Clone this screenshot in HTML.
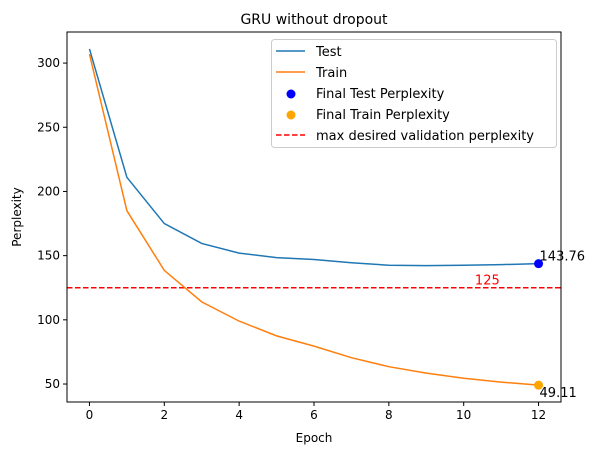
<!DOCTYPE html>
<html><head><meta charset="utf-8"><style>
body{margin:0;background:#fff}
svg text{font-family:"DejaVu Sans","Liberation Sans",sans-serif}
</style></head><body>
<svg id="chart" width="597" height="455" xmlns="http://www.w3.org/2000/svg">
<rect width="597" height="455" fill="#fff"/>
<g id="plot"></g>
</svg>
<script>
const epochs=[0,1,2,3,4,5,6,7,8,9,10,11,12];
const testVals=[311,211,175,159.5,152,148.5,147,144.5,142.5,142.2,142.5,143,143.76];
const trainVals=[307,185,138.5,114,99,87.5,79.5,70.5,63.5,58.5,54.5,51.5,49.11];
const xTicks=[0,2,4,6,8,10,12];
const yTicks=[50,100,150,200,250,300];
const threshold=125;
const finalTest=143.76, finalTrain=49.11;

const L=67,R=561,T=32,B=402;
const xmin=-0.6,xmax=12.6,ymin=36,ymax=324.2;
const X=v=>L+(v-xmin)/(xmax-xmin)*(R-L);
const Y=v=>B-(v-ymin)/(ymax-ymin)*(B-T);
const NS="http://www.w3.org/2000/svg";
const g=document.getElementById('plot');
function mk(tag,attrs,txt){const e=document.createElementNS(NS,tag);for(const k in attrs)e.setAttribute(k,attrs[k]);if(txt!==undefined)e.textContent=txt;g.appendChild(e);return e;}

// threshold line
let e=mk('line',{x1:L,x2:R,y1:Y(threshold),y2:Y(threshold),stroke:'red','stroke-width':1.5,'stroke-dasharray':'5.5,2.5'});


e=mk('text',{x:X(10.3),y:Y(threshold)-3,fill:'red','font-size':13},String(threshold));



function series(vals,color,name){
  const d=vals.map((v,i)=>(i?'L':'M')+X(epochs[i])+' '+Y(v)).join(' ');
  const p=mk('path',{d:d,fill:'none',stroke:color,'stroke-width':1.5});
  
  
}
series(testVals,'#1f77b4','test-line');
series(trainVals,'#ff7f0e','train-line');

e=mk('circle',{cx:X(12),cy:Y(finalTest),r:4.5,fill:'blue'});


e=mk('circle',{cx:X(12),cy:Y(finalTrain),r:4.5,fill:'orange'});


e=mk('text',{x:X(12)+1,y:Y(finalTest)-3,'font-size':13},finalTest.toFixed(2));


e=mk('text',{x:X(12)+1,y:Y(finalTrain)+12,'font-size':13},finalTrain.toFixed(2));



// axes frame
e=mk('rect',{x:L,y:T,width:R-L,height:B-T,fill:'none',stroke:'#000','stroke-width':1});



xTicks.forEach(t=>{
  const x=X(t);
  let l=mk('line',{x1:x,x2:x,y1:B,y2:B+4,stroke:'#000'});
  
  
  let tx=mk('text',{x:x,y:B+17,'font-size':12,'text-anchor':'middle'},String(t));
  
  
});
yTicks.forEach(t=>{
  const y=Y(t);
  let l=mk('line',{x1:L-4,x2:L,y1:y,y2:y,stroke:'#000'});
  
  
  let tx=mk('text',{x:L-7,y:y+4,'font-size':12,'text-anchor':'end'},String(t));
  
  
});

e=mk('text',{x:(L+R)/2,y:442,'font-size':12,'text-anchor':'middle'},'Epoch');


e=mk('text',{x:21,y:(T+B)/2,'font-size':12,'text-anchor':'middle',transform:'rotate(-90 21 '+(T+B)/2+')'},'Perplexity');


e=mk('text',{x:(L+R)/2,y:24,'font-size':14,'text-anchor':'middle'},'GRU without dropout');



// legend
e=mk('rect',{x:271.5,y:39.5,width:285,height:108,rx:3,fill:'#fff','fill-opacity':0.8,stroke:'#ccc'});


const legY=[51,72,93,114,135];
const legT=['Test','Train','Final Test Perplexity','Final Train Perplexity','max desired validation perplexity'];
legT.forEach((t,i)=>{
  const y=legY[i];
  let m;
  if(i===0) m=mk('line',{x1:276,x2:305,y1:y,y2:y,stroke:'#1f77b4','stroke-width':1.5});
  else if(i===1) m=mk('line',{x1:276,x2:305,y1:y,y2:y,stroke:'#ff7f0e','stroke-width':1.5});
  else if(i===2) m=mk('circle',{cx:291,cy:y+1,r:4.5,fill:'blue'});
  else if(i===3) m=mk('circle',{cx:291,cy:y+1,r:4.5,fill:'orange'});
  else m=mk('line',{x1:276,x2:305,y1:y,y2:y,stroke:'red','stroke-width':1.5,'stroke-dasharray':'5.5,2.5'});
  
  
  let tx=mk('text',{x:316,y:y+5,'font-size':13},t);
  
  
});
</script>
</body></html>
